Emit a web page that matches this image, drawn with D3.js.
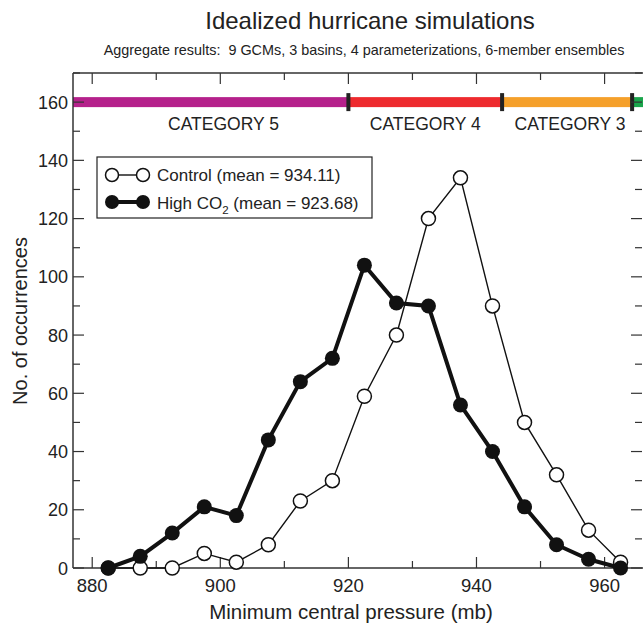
<!DOCTYPE html>
<html>
<head>
<meta charset="utf-8">
<script src="https://cdn.jsdelivr.net/npm/d3@7"></script>
<style>
  body { margin: 0; background: #fff; }
  text { font-family: "Liberation Sans", Arial, Helvetica, sans-serif; fill: #222; }
</style>
</head>
<body>
<div id="chart"></div>
<script>
// bin centres (mb)
const pressure = [882.5, 887.5, 892.5, 897.5, 902.5, 907.5, 912.5, 917.5, 922.5,
  927.5, 932.5, 937.5, 942.5, 947.5, 952.5, 957.5, 962.5];
const control = [0, 0, 0, 5, 2, 8, 23, 30, 59, 80, 120, 134, 90, 50, 32, 13, 2];
const highCO2 = [0, 4, 12, 21, 18, 44, 64, 72, 104, 91, 90, 56, 40, 21, 8, 3, 0];

const xTicks = [880, 900, 920, 940, 960];
const yTicks = [0, 20, 40, 60, 80, 100, 120, 140, 160];

// Saffir-Simpson bands along the top
const categories = [
  { name: "CATEGORY 5", from: 870, to: 920, labelAt: 900.5, color: "#b5218b" },
  { name: "CATEGORY 4", from: 920, to: 944, labelAt: 932, color: "#ee2a2e" },
  { name: "CATEGORY 3", from: 944, to: 964.3, labelAt: 954.6, color: "#f5a02a" },
  { name: "", from: 964.3, to: 980, labelAt: 972, color: "#1aa54b" }
];
const legendLabels = ["Control (mean = 934.11)", "High CO", "2", " (mean = 923.68)"];

const width = 643, height = 626;
const margin = { top: 73, left: 73, bottom: 58 };

const svg = d3.select("#chart").append("svg")
  .attr("width", width)
  .attr("height", height);

const x = d3.scaleLinear().domain([877, 966]).range([margin.left, width]);
const y = d3.scaleLinear().domain([0, 170]).range([height - margin.bottom, margin.top]);

svg.append("clipPath").attr("id", "clip")
  .append("rect")
  .attr("x", margin.left).attr("y", margin.top)
  .attr("width", width - margin.left).attr("height", y(0) - margin.top);

// title
svg.append("text")
  .attr("x", 370).attr("y", 29)
  .attr("text-anchor", "middle")
  .style("font-size", "24px")
  .text("Idealized hurricane simulations");
svg.append("text")
  .attr("x", 364).attr("y", 55)
  .attr("text-anchor", "middle")
  .style("font-size", "14.4px")
  .attr("xml:space", "preserve")
  .text("Aggregate results:  9 GCMs, 3 basins, 4 parameterizations, 6-member ensembles");

// category bar
const bar = svg.append("g").attr("clip-path", "url(#clip)");
bar.selectAll(".cat")
  .data(categories)
  .enter()
  .append("rect")
  .attr("x", (d) => x(d.from))
  .attr("width", (d) => x(d.to) - x(d.from))
  .attr("y", y(160) - 5)
  .attr("height", 10)
  .attr("fill", (d) => d.color);
bar.selectAll(".sep")
  .data(categories.slice(1))
  .enter()
  .append("rect")
  .attr("x", (d) => x(d.from) - 2)
  .attr("width", 4)
  .attr("y", y(160) - 9)
  .attr("height", 18)
  .attr("fill", "#222");
bar.selectAll(".catLabel")
  .data(categories.filter((d) => d.name))
  .enter()
  .append("text")
  .attr("x", (d) => x(d.labelAt))
  .attr("y", y(160) + 28)
  .attr("text-anchor", "middle")
  .style("font-size", "17.5px")
  .text((d) => d.name);

// axes frame
const axisColor = "#333";
svg.append("line").attr("x1", margin.left).attr("x2", margin.left)
  .attr("y1", margin.top).attr("y2", y(0)).attr("stroke", axisColor).attr("stroke-width", 1.5);
svg.append("line").attr("x1", margin.left).attr("x2", width)
  .attr("y1", y(0)).attr("y2", y(0)).attr("stroke", axisColor).attr("stroke-width", 1.5);
svg.append("line").attr("x1", margin.left).attr("x2", width)
  .attr("y1", margin.top).attr("y2", margin.top).attr("stroke", axisColor).attr("stroke-width", 1.5);

// x ticks (inward, bottom and top)
const xAll = d3.range(880, 966, 10);
xAll.forEach((v) => {
  const len = v % 20 === 0 ? 11 : 7;
  svg.append("line").attr("x1", x(v)).attr("x2", x(v))
    .attr("y1", y(0)).attr("y2", y(0) - len).attr("stroke", axisColor).attr("stroke-width", 1.2);
  svg.append("line").attr("x1", x(v)).attr("x2", x(v))
    .attr("y1", margin.top).attr("y2", margin.top + len).attr("stroke", axisColor).attr("stroke-width", 1.2);
});
svg.selectAll(".xlab")
  .data(xTicks)
  .enter()
  .append("text")
  .attr("x", (d) => x(d))
  .attr("y", y(0) + 24)
  .attr("text-anchor", "middle")
  .style("font-size", "18.5px")
  .text((d) => d);

// y ticks (inward, left and right)
const yAll = d3.range(0, 171, 10);
yAll.forEach((v) => {
  const len = v % 20 === 0 ? 11 : 7;
  svg.append("line").attr("x1", margin.left).attr("x2", margin.left + len)
    .attr("y1", y(v)).attr("y2", y(v)).attr("stroke", axisColor).attr("stroke-width", 1.2);
  svg.append("line").attr("x1", width - 1).attr("x2", width - 1 - len)
    .attr("y1", y(v)).attr("y2", y(v)).attr("stroke", axisColor).attr("stroke-width", 1.2);
});
svg.selectAll(".ylab")
  .data(yTicks)
  .enter()
  .append("text")
  .attr("x", margin.left - 5)
  .attr("y", (d) => y(d) + 6.5)
  .attr("text-anchor", "end")
  .style("font-size", "18px")
  .text((d) => d);

// axis titles
svg.append("text")
  .attr("x", 351).attr("y", 619)
  .attr("text-anchor", "middle")
  .style("font-size", "20.5px")
  .text("Minimum central pressure (mb)");
svg.append("text")
  .attr("transform", `translate(27, 321) rotate(-90)`)
  .attr("text-anchor", "middle")
  .style("font-size", "20px")
  .text("No. of occurrences");

// series
const line = d3.line().x((d) => x(d[0])).y((d) => y(d[1]));
const ctrlData = pressure.map((p, i) => [p, control[i]]);
const co2Data = pressure.map((p, i) => [p, highCO2[i]]);

svg.append("path").datum(ctrlData)
  .attr("d", line).attr("fill", "none").attr("stroke", "#111").attr("stroke-width", 1.4);
svg.selectAll(".ctrl")
  .data(ctrlData)
  .enter()
  .append("circle")
  .attr("cx", (d) => x(d[0])).attr("cy", (d) => y(d[1]))
  .attr("r", 7)
  .attr("fill", "#fff").attr("stroke", "#111").attr("stroke-width", 1.5);

svg.append("path").datum(co2Data)
  .attr("d", line).attr("fill", "none").attr("stroke", "#111").attr("stroke-width", 4);
svg.selectAll(".co2")
  .data(co2Data)
  .enter()
  .append("circle")
  .attr("cx", (d) => x(d[0])).attr("cy", (d) => y(d[1]))
  .attr("r", 7.5)
  .attr("fill", "#111");

// legend
const lg = svg.append("g");
lg.append("rect")
  .attr("x", 97).attr("y", 157).attr("width", 275).attr("height", 61)
  .attr("fill", "#fff").attr("stroke", "#222").attr("stroke-width", 1.2);
lg.append("line").attr("x1", 112).attr("x2", 143).attr("y1", 175).attr("y2", 175)
  .attr("stroke", "#111").attr("stroke-width", 1.4);
[112, 143].forEach((cx) => {
  lg.append("circle").attr("cx", cx).attr("cy", 175).attr("r", 6.5)
    .attr("fill", "#fff").attr("stroke", "#111").attr("stroke-width", 1.5);
});
lg.append("line").attr("x1", 112).attr("x2", 143).attr("y1", 202).attr("y2", 202)
  .attr("stroke", "#111").attr("stroke-width", 4);
[112, 143].forEach((cx) => {
  lg.append("circle").attr("cx", cx).attr("cy", 202).attr("r", 7).attr("fill", "#111");
});
lg.append("text").attr("x", 157).attr("y", 181)
  .style("font-size", "17px").text(legendLabels[0]);
const t2 = lg.append("text").attr("x", 157).attr("y", 209).style("font-size", "17px");
t2.append("tspan").text(legendLabels[1]);
t2.append("tspan").attr("dy", 5).style("font-size", "11.5px").text(legendLabels[2]);
t2.append("tspan").attr("dy", -5).text(legendLabels[3]);
</script>
</body>
</html>
